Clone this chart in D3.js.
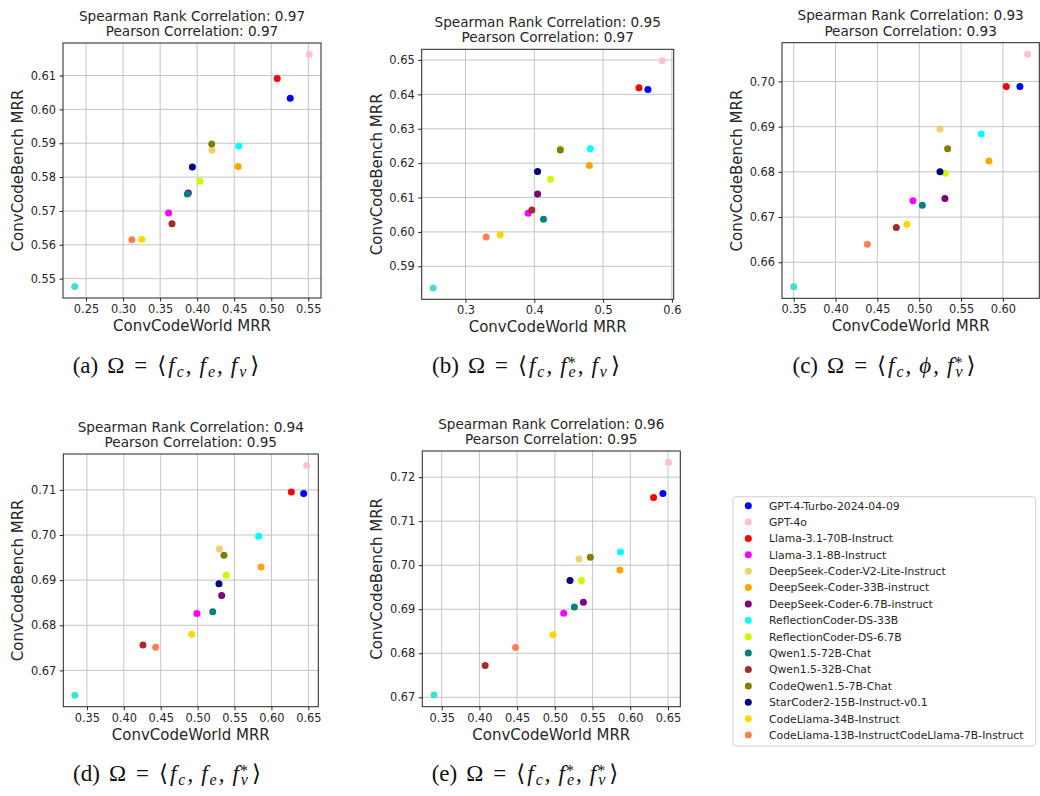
<!DOCTYPE html>
<html>
<head>
<meta charset="utf-8">
<script src="https://cdn.jsdelivr.net/npm/d3@7"></script>
<style>
  body { margin: 0; background: #fff; }
  svg { display: block; }
  text { font-family: "DejaVu Sans", sans-serif; fill: #262626; }
</style>
</head>
<body>
<svg id="fig" width="1040" height="796"></svg>
<script>
// models, same order in every panel (last one has no legend entry in the original)
const models = ['GPT-4-Turbo-2024-04-09', 'GPT-4o', 'Llama-3.1-70B-Instruct', 'Llama-3.1-8B-Instruct',
  'DeepSeek-Coder-V2-Lite-Instruct', 'DeepSeek-Coder-33B-instruct', 'DeepSeek-Coder-6.7B-instruct',
  'ReflectionCoder-DS-33B', 'ReflectionCoder-DS-6.7B', 'Qwen1.5-72B-Chat', 'Qwen1.5-32B-Chat',
  'CodeQwen1.5-7B-Chat', 'StarCoder2-15B-Instruct-v0.1', 'CodeLlama-34B-Instruct',
  'CodeLlama-13B-Instruct', 'CodeLlama-7B-Instruct'];
const colors = ['blue', 'pink', 'red', 'magenta', '#f0cf6e', 'orange', 'purple', 'cyan', '#ccf900',
  'teal', 'brown', 'olive', 'navy', 'gold', 'coral', 'turquoise'];
const legendLabels = models.slice(0, 14).concat(['CodeLlama-13B-InstructCodeLlama-7B-Instruct']);

// ConvCodeWorld MRR (x) / ConvCodeBench MRR (y)
const worldA = [0.5256, 0.5513, 0.5080, 0.3614, 0.4200, 0.4553, 0.3880, 0.4562, 0.4038, 0.3867, 0.3660, 0.4196, 0.3935, 0.3253, 0.3118, 0.2347];
const benchA = [0.6033, 0.6162, 0.6091, 0.5694, 0.5879, 0.5831, 0.5753, 0.5892, 0.5788, 0.5750, 0.5662, 0.5898, 0.5830, 0.5616, 0.5615, 0.5477];
const worldB = [0.5652, 0.5860, 0.5522, 0.3911, 0.4378, 0.4800, 0.4048, 0.4815, 0.4236, 0.4134, 0.3965, 0.4378, 0.4048, 0.3505, 0.3301, 0.2530];
const benchB = [0.6414, 0.6498, 0.6419, 0.6054, 0.6242, 0.6193, 0.6110, 0.6242, 0.6153, 0.6037, 0.6064, 0.6238, 0.6176, 0.5992, 0.5985, 0.5837];
const worldC = [0.6203, 0.6295, 0.6040, 0.4925, 0.5248, 0.5833, 0.5307, 0.5741, 0.5311, 0.5037, 0.4726, 0.5339, 0.5248, 0.4854, 0.4380, 0.3500];
const benchC = [0.6989, 0.7060, 0.6989, 0.6736, 0.6895, 0.6824, 0.6741, 0.6884, 0.6797, 0.6726, 0.6677, 0.6851, 0.6800, 0.6684, 0.6640, 0.6546];
const worldD = [0.6437, 0.6478, 0.6270, 0.4991, 0.5294, 0.5859, 0.5326, 0.5827, 0.5389, 0.5204, 0.4259, 0.5357, 0.5289, 0.4919, 0.4431, 0.3337];
const benchD = [0.7092, 0.7154, 0.7095, 0.6826, 0.6969, 0.6929, 0.6866, 0.6997, 0.6911, 0.6830, 0.6756, 0.6955, 0.6892, 0.6780, 0.6751, 0.6645];
const worldE = [0.6433, 0.6508, 0.6309, 0.5117, 0.5321, 0.5862, 0.5379, 0.5870, 0.5352, 0.5259, 0.4076, 0.5471, 0.5201, 0.4975, 0.4479, 0.3398];
const benchE = [0.7163, 0.7233, 0.7154, 0.6891, 0.7014, 0.6989, 0.6916, 0.7030, 0.6965, 0.6905, 0.6772, 0.7018, 0.6965, 0.6842, 0.6813, 0.6705];

const spearman = ['0.97', '0.95', '0.93', '0.94', '0.96'];
const pearson  = ['0.97', '0.97', '0.93', '0.95', '0.95'];

// tick values
const xTicksA = [0.25, 0.30, 0.35, 0.40, 0.45, 0.50, 0.55];
const yTicksA = [0.55, 0.56, 0.57, 0.58, 0.59, 0.60, 0.61];
const xTicksB = [0.3, 0.4, 0.5, 0.6];
const yTicksB = [0.59, 0.60, 0.61, 0.62, 0.63, 0.64, 0.65];
const xTicksC = [0.35, 0.40, 0.45, 0.50, 0.55, 0.60];
const yTicksC = [0.66, 0.67, 0.68, 0.69, 0.70];
const xTicksD = [0.35, 0.40, 0.45, 0.50, 0.55, 0.60, 0.65];
const yTicksD = [0.67, 0.68, 0.69, 0.70, 0.71];
const xTicksE = [0.35, 0.40, 0.45, 0.50, 0.55, 0.60, 0.65];
const yTicksE = [0.67, 0.68, 0.69, 0.70, 0.71, 0.72];

const svg = d3.select('#fig');

const panels = [
  {box: [63, 43, 321, 298],     xs: worldA, ys: benchA, xt: xTicksA, yt: yTicksA, xf: '.2f', cap: [166, 373, 'a', [['f','c',''], ['f','e',''], ['f','v','']]]},
  {box: [421.7, 49.3, 673.7, 299.3], xs: worldB, ys: benchB, xt: xTicksB, yt: yTicksB, xf: '.1f', cap: [526, 373, 'b', [['f','c',''], ['f','e','*'], ['f','v','']]]},
  {box: [782, 42.7, 1039.3, 298.3], xs: worldC, ys: benchC, xt: xTicksC, yt: yTicksC, xf: '.2f', cap: [884, 373, 'c', [['f','c',''], ['\u03d5','',''], ['f','v','*']]]},
  {box: [63.3, 454, 318.3, 706.7], xs: worldD, ys: benchD, xt: xTicksD, yt: yTicksD, xf: '.2f', cap: [167, 781, 'd', [['f','c',''], ['f','e',''], ['f','v','*']]]},
  {box: [422.3, 451, 680.3, 706.7], xs: worldE, ys: benchE, xt: xTicksE, yt: yTicksE, xf: '.2f', cap: [525, 781, 'e', [['f','c',''], ['f','e','*'], ['f','v','*']]]}
];

// matplotlib style 5% margins
function padded(vals) {
  const ext = d3.extent(vals);
  const m = (ext[1] - ext[0]) * 0.05;
  return [ext[0] - m, ext[1] + m];
}

panels.forEach(function (p, k) {
  const [x0, y0, x1, y1] = p.box;
  const x = d3.scaleLinear().domain(padded(p.xs)).range([x0, x1]);
  const y = d3.scaleLinear().domain(padded(p.ys)).range([y1, y0]);
  const g = svg.append('g').attr('class', 'panel');

  // grid
  g.append('g').selectAll('line').data(p.xt).enter().append('line')
    .attr('x1', d => x(d)).attr('x2', d => x(d)).attr('y1', y0).attr('y2', y1)
    .attr('stroke', '#c4c4c4').attr('stroke-width', 1);
  g.append('g').selectAll('line').data(p.yt).enter().append('line')
    .attr('x1', x0).attr('x2', x1).attr('y1', d => y(d)).attr('y2', d => y(d))
    .attr('stroke', '#c4c4c4').attr('stroke-width', 1);

  // axes
  const xAxis = d3.axisBottom(x).tickValues(p.xt).tickFormat(d3.format(p.xf)).tickSize(3.5).tickPadding(3.5);
  const yAxis = d3.axisLeft(y).tickValues(p.yt).tickFormat(d3.format('.2f')).tickSize(3.5).tickPadding(3.5);
  const gx = g.append('g').attr('transform', 'translate(0,' + y1 + ')').call(xAxis);
  const gy = g.append('g').attr('transform', 'translate(' + x0 + ',0)').call(yAxis);
  [gx, gy].forEach(a => {
    a.select('.domain').remove();
    a.selectAll('line').attr('stroke', '#222');
    a.selectAll('text').style('font-size', '11.4px').style('font-family', '"DejaVu Sans", sans-serif').attr('fill', '#262626');
  });

  // points
  g.append('g').selectAll('circle').data(p.xs).enter().append('circle')
    .attr('cx', d => x(d)).attr('cy', (d, i) => y(p.ys[i]))
    .attr('r', 3.5).attr('fill', (d, i) => colors[i]);

  // frame
  g.append('rect').attr('x', x0).attr('y', y0).attr('width', x1 - x0).attr('height', y1 - y0)
    .attr('fill', 'none').attr('stroke', '#222').attr('stroke-width', 1);

  // titles and labels
  const cx = (x0 + x1) / 2;
  g.append('text').attr('x', cx).attr('y', y0 - 22.5).attr('text-anchor', 'middle')
    .style('font-size', '13.6px').text('Spearman Rank Correlation: ' + spearman[k]);
  g.append('text').attr('x', cx).attr('y', y0 - 7).attr('text-anchor', 'middle')
    .style('font-size', '13.6px').text('Pearson Correlation: ' + pearson[k]);
  g.append('text').attr('x', cx).attr('y', y1 + 33).attr('text-anchor', 'middle')
    .style('font-size', '15px').text('ConvCodeWorld MRR');
  g.append('text').attr('transform', 'translate(' + (x0 - 40) + ',' + ((y0 + y1) / 2) + ') rotate(-90)')
    .attr('text-anchor', 'middle').style('font-size', '15px').text('ConvCodeBench MRR');

  caption(p.cap);
});

// sub-figure caption, e.g. (a) Ω = ⟨f_c, f_e, f_v⟩
function caption(c) {
  const [cx, cy, letter, terms] = c;
  const t = svg.append('text').attr('x', cx).attr('y', cy).attr('text-anchor', 'middle')
    .style('font-family', '"Liberation Serif", "DejaVu Serif", serif').style('font-size', '23px').style('fill', '#111');
  t.append('tspan').text('(' + letter + ')');
  t.append('tspan').attr('dx', 9).text('\u03a9');
  t.append('tspan').attr('dx', 10).text('=');
  t.append('tspan').attr('dx', 10).style('font-family', '"DejaVu Serif", serif').style('font-weight', '300').text('\u27e8');
  terms.forEach(function (tm, i) {
    t.append('tspan').attr('dx', i === 0 ? 2 : 8).style('font-style', 'italic').text(tm[0]);
    let off = 0;
    if (tm[1]) {
      t.append('tspan').attr('dx', 2).attr('dy', 4).style('font-style', 'italic').style('font-size', '16px').text(tm[1]);
      off = 4;
      if (tm[2]) {
        t.append('tspan').attr('dx', -8).attr('dy', -9).style('font-size', '16px').text(tm[2]);
        off = -5;
      }
    }
    if (i < terms.length - 1) {
      t.append('tspan').attr('dx', 2).attr('dy', -off).text(',');
    } else {
      t.append('tspan').attr('dx', 4).attr('dy', -off).style('font-family', '"DejaVu Serif", serif').text('\u27e9');
    }
  });
}

// legend
const lg = svg.append('g');
lg.append('rect').attr('x', 733).attr('y', 496.7).attr('width', 302.7).attr('height', 249.3)
  .attr('rx', 3).attr('fill', '#fff').attr('stroke', '#d0d0d0').attr('stroke-width', 1);
const rows = lg.selectAll('g.row').data(legendLabels).enter().append('g')
  .attr('transform', (d, i) => 'translate(0,' + (505.7 + i * 16.38) + ')');
rows.append('circle').attr('cx', 748.3).attr('cy', 0).attr('r', 3.5).attr('fill', (d, i) => colors[i]);
rows.append('text').attr('x', 769).attr('y', 0).attr('dy', '0.36em')
  .style('font-size', '10.8px').text(d => d);
</script>
</body>
</html>
